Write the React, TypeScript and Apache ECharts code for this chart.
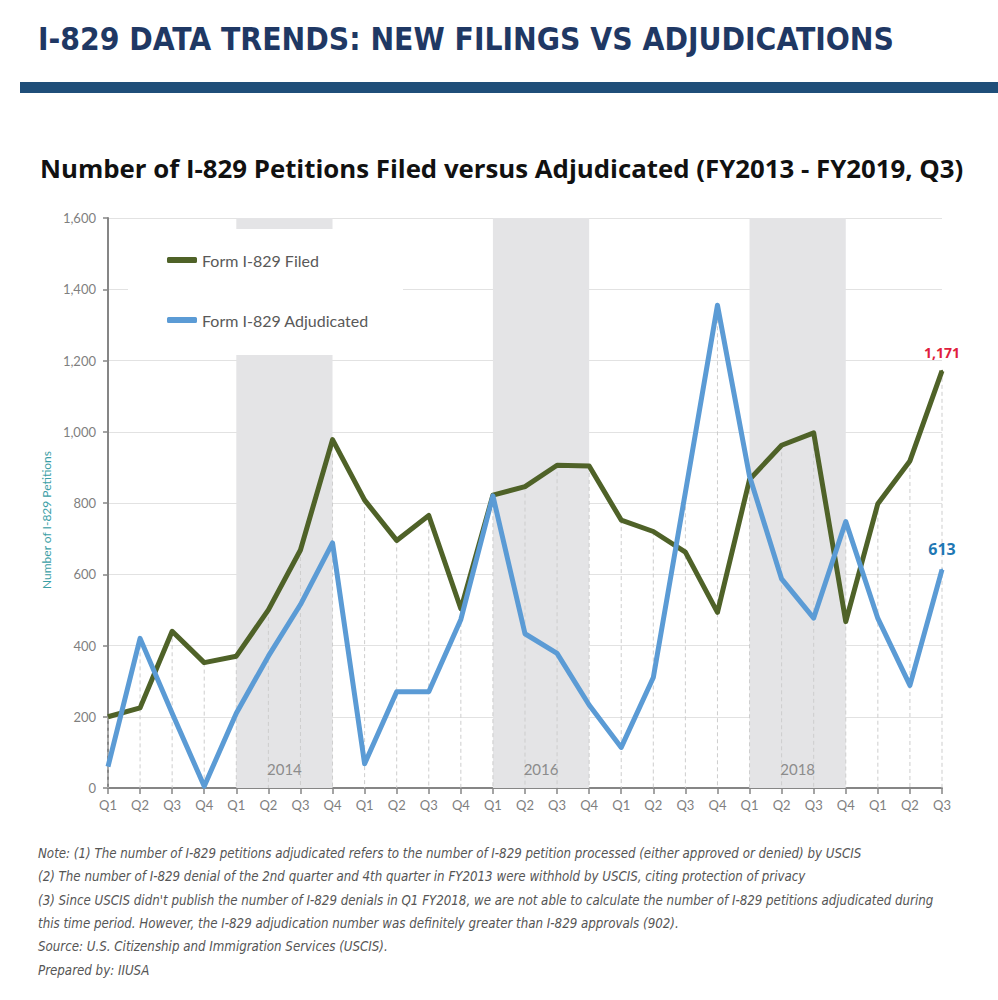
import React, { useEffect, useRef } from "react";
import * as echarts from "echarts";

const categories = [
  "FY2013 Q1", "FY2013 Q2", "FY2013 Q3", "FY2013 Q4",
  "FY2014 Q1", "FY2014 Q2", "FY2014 Q3", "FY2014 Q4",
  "FY2015 Q1", "FY2015 Q2", "FY2015 Q3", "FY2015 Q4",
  "FY2016 Q1", "FY2016 Q2", "FY2016 Q3", "FY2016 Q4",
  "FY2017 Q1", "FY2017 Q2", "FY2017 Q3", "FY2017 Q4",
  "FY2018 Q1", "FY2018 Q2", "FY2018 Q3", "FY2018 Q4",
  "FY2019 Q1", "FY2019 Q2", "FY2019 Q3",
];

const filed = [200, 225, 440, 352, 370, 500, 668, 978, 808, 695, 765, 503, 822, 846, 906, 904, 752, 720, 662, 493, 866, 962, 997, 467, 798, 918, 1171];
const adjudicated = [60, 420, 210, 5, 210, 370, 515, 688, 68, 270, 270, 473, 820, 433, 378, 233, 114, 310, 830, 1355, 875, 587, 477, 748, 476, 288, 613];

const yTicks = [0, 200, 400, 600, 800, 1000, 1200, 1400, 1600];

const highlightedYears = [
  { label: "2014", from: "FY2014 Q1", to: "FY2014 Q4" },
  { label: "2016", from: "FY2016 Q1", to: "FY2016 Q4" },
  { label: "2018", from: "FY2018 Q1", to: "FY2018 Q4" },
];

const pageTitle = "I-829 DATA TRENDS: NEW FILINGS VS ADJUDICATIONS";
const chartTitle = "Number of I-829 Petitions Filed versus Adjudicated (FY2013 - FY2019, Q3)";
const yAxisTitle = "Number of I-829 Petitions";
const seriesNames = ["Form I-829 Filed", "Form I-829 Adjudicated"];
const notes = [
  "Note: (1) The number of I-829 petitions adjudicated refers to the number of I-829 petition processed (either approved or denied) by USCIS",
  "(2) The number of I-829 denial of the 2nd quarter and 4th quarter in FY2013 were withhold by USCIS, citing protection of privacy",
  "(3) Since USCIS didn't publish the number of I-829 denials in Q1 FY2018, we are not able to calculate the number of I-829 petitions adjudicated during",
  "this time period. However, the I-829 adjudication number was definitely greater than I-829 approvals (902).",
  "Source: U.S. Citizenship and Immigration Services (USCIS).",
  "Prepared by: IIUSA",
];

const GREEN = "#4f6228";
const BLUE = "#5b9bd5";
const fmt = (v: number) => v.toLocaleString("en-US");

export default function App() {
  const ref = useRef<HTMLDivElement>(null);

  useEffect(() => {
    document.body.style.margin = "0";
    if (!ref.current) return;
    const chart = echarts.init(ref.current, null, { renderer: "svg" });
    const last = categories.length - 1;
    const noteTops = [853, 876, 900, 923, 946, 970];

    const option: any = {
      animation: false,
      backgroundColor: "#ffffff",
      grid: { left: 108, right: 56, top: 218, bottom: 212 },
      legend: {
        orient: "vertical",
        left: 162,
        top: 247,
        itemGap: 44,
        itemWidth: 30,
        itemHeight: 6,
        icon: "roundRect",
        data: seriesNames,
        textStyle: { color: "#595959", fontSize: 16, fontFamily: "Lato" },
        z: 10,
      },
      xAxis: {
        type: "category",
        data: categories,
        boundaryGap: false,
        axisLine: { lineStyle: { color: "#868686", width: 2 } },
        axisTick: { show: true, length: 6, interval: 0, lineStyle: { color: "#868686", width: 1.5 } },
        axisLabel: {
          interval: 0,
          margin: 10,
          color: "#7f7f7f",
          fontSize: 13,
          fontFamily: "Lato",
          formatter: (v: string) => v.split(" ")[1],
        },
        splitLine: { show: false },
      },
      yAxis: {
        type: "value",
        min: yTicks[0],
        max: yTicks[yTicks.length - 1],
        interval: yTicks[1] - yTicks[0],
        axisLine: { show: true, lineStyle: { color: "#868686", width: 2 } },
        axisTick: { show: true, length: 5, lineStyle: { color: "#868686", width: 1.5 } },
        axisLabel: { color: "#7f7f7f", fontSize: 13, fontFamily: "Lato", margin: 12, formatter: (v: number) => fmt(v) },
        splitLine: { lineStyle: { color: "#e2e2e2", width: 1 } },
      },
      graphic: [
        {
          type: "text",
          left: 38,
          top: 23,
          style: { text: pageTitle, fill: "#1f3864", font: "bold 31.5px 'Liberation Sans Narrow', 'DejaVu Sans Condensed', sans-serif" },
        },
        { type: "rect", shape: { x: 20, y: 82, width: 978, height: 11 }, style: { fill: "#1f4e79" } },
        {
          type: "text",
          left: 40,
          top: 155,
          style: { text: chartTitle, fill: "#111111", font: "bold 25.8px 'Open Sans', sans-serif" },
        },
        { type: "rect", z: 3, shape: { x: 128, y: 229, width: 275, height: 126 }, style: { fill: "#ffffff" } },
        {
          type: "text",
          x: 46,
          y: 520,
          rotation: Math.PI / 2,
          style: {
            text: yAxisTitle,
            fill: "#3a9ea5",
            font: "12px Lato, sans-serif",
            textAlign: "center",
            textVerticalAlign: "middle",
          },
        },
        ...notes.map((t, i) => ({
          type: "text",
          x: 38,
          y: noteTops[i],
          style: {
            text: t,
            fill: "#555555",
            font: "italic 13.2px 'Liberation Sans Narrow', 'DejaVu Sans Condensed', sans-serif",
            textVerticalAlign: "middle",
          },
        })),
      ],
      series: [
        {
          name: "drop-lines",
          type: "custom",
          z: 1,
          silent: true,
          data: filed.map((f, i) => [i, Math.max(f, adjudicated[i])]),
          renderItem: (params: any, api: any) => {
            const top = api.coord([api.value(0), api.value(1)]);
            const bottom = api.coord([api.value(0), 0]);
            return {
              type: "line",
              shape: { x1: top[0], y1: top[1], x2: bottom[0], y2: bottom[1] },
              style: { stroke: "#cdcdcd", lineWidth: 1, lineDash: [4, 3] },
            };
          },
          markArea: {
            silent: true,
            itemStyle: { color: "#e4e4e6" },
            label: {
              show: true,
              position: "insideBottom",
              distance: 12,
              color: "#8c8c8c",
              fontSize: 15,
              fontFamily: "Lato",
            },
            data: highlightedYears.map((b) => [
              { name: b.label, xAxis: b.from, yAxis: yTicks[0] },
              { xAxis: b.to, yAxis: yTicks[yTicks.length - 1] },
            ]),
          },
        },
        {
          name: seriesNames[0],
          type: "line",
          z: 4,
          symbol: "none",
          lineStyle: { color: GREEN, width: 5, join: "round" },
          itemStyle: { color: GREEN },
          data: filed.map((v, i) =>
            i === last
              ? {
                  value: v,
                  symbol: "circle",
                  symbolSize: 2,
                  label: {
                    show: true,
                    position: "top",
                    distance: 10,
                    color: "#e0203c",
                    fontWeight: "bold",
                    fontSize: 14,
                    fontFamily: "Open Sans",
                    formatter: () => fmt(v),
                  },
                }
              : v
          ),
        },
        {
          name: seriesNames[1],
          type: "line",
          z: 5,
          symbol: "none",
          lineStyle: { color: BLUE, width: 5, join: "round" },
          itemStyle: { color: BLUE },
          data: adjudicated.map((v, i) =>
            i === last
              ? {
                  value: v,
                  symbol: "circle",
                  symbolSize: 2,
                  label: {
                    show: true,
                    position: "top",
                    distance: 12,
                    color: "#1f78b4",
                    fontWeight: "bold",
                    fontSize: 16,
                    fontFamily: "Open Sans",
                    formatter: () => fmt(v),
                  },
                }
              : v
          ),
        },
      ],
    };
    chart.setOption(option);
    return () => chart.dispose();
  }, []);

  return <div ref={ref} style={{ width: 998, height: 1000 }} />;
}
